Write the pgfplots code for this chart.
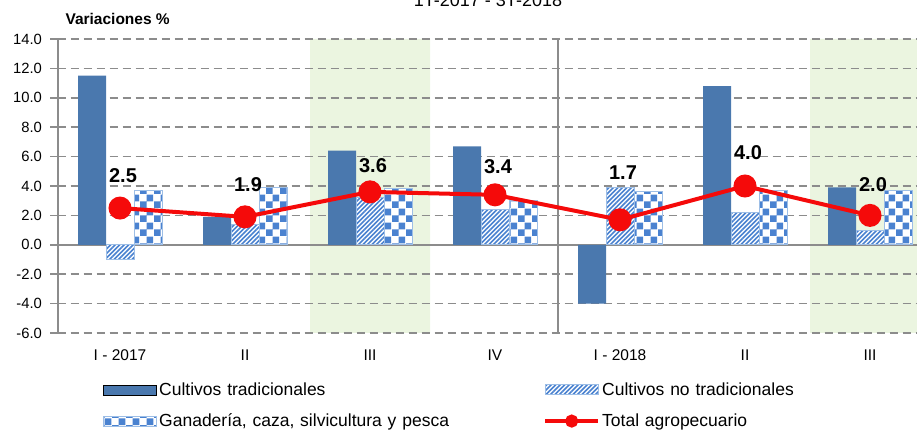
\documentclass[border=0pt]{standalone}
\usepackage{fontspec}
\setmainfont{Liberation Sans}
\usepackage{pgfplots}
\usepackage{pgfplotstable}
\pgfplotsset{compat=1.18}
\usetikzlibrary{patterns}

\definecolor{tradblue}{HTML}{4A78AE}
\definecolor{patblue}{HTML}{4A82D0}
\definecolor{edgeblue}{HTML}{9DBEE6}
\definecolor{gridgray}{HTML}{8C8C8C}
\definecolor{shade}{HTML}{EBF5E0}
\definecolor{totred}{HTML}{F50A0A}

% fine diagonal stripes
\pgfdeclarepatternformonly{mystripes}{\pgfqpoint{-1pt}{-1pt}}{\pgfqpoint{5.5pt}{5.5pt}}{\pgfqpoint{4.5pt}{4.5pt}}{%
  \pgfsetlinewidth{1.5pt}
  \pgfpathmoveto{\pgfqpoint{0pt}{0pt}}
  \pgfpathlineto{\pgfqpoint{4.6pt}{4.6pt}}
  \pgfusepath{stroke}}
% coarse checkerboard
\pgfdeclarepatternformonly{mychecker}{\pgfpointorigin}{\pgfqpoint{14pt}{14pt}}{\pgfqpoint{14pt}{14pt}}{%
  \pgfpathrectangle{\pgfpointorigin}{\pgfqpoint{7pt}{7pt}}
  \pgfpathrectangle{\pgfqpoint{7pt}{7pt}}{\pgfqpoint{7pt}{7pt}}
  \pgfusepath{fill}}

% x: quarter, off: label offset (pt) for the total line
\pgfplotstableread{
x trad notrad gan total off
0 11.5 -1.0 3.7 2.5 26
1 1.9 1.4 3.9 1.9 25
2 6.4 3.2 3.8 3.6 19
3 6.7 2.4 3.0 3.4 21
4 -4.0 3.9 3.6 1.7 40
5 10.8 2.2 3.7 4.0 26
6 3.9 1.0 3.7 2.0 24
}\datatable

\begin{document}
\begin{tikzpicture}
\begin{axis}[
    name=ax, set layers,
    scale only axis, width=859.5pt, height=294pt,
    xmin=-0.5, xmax=6.376, ymin=-6, ymax=14,
    ytick={-6,-4,...,14},
    xtick={0,...,6},
    xticklabels={I - 2017, II, III, IV, I - 2018, II, III},
    axis y line*=left, axis x line*=bottom,
    x axis line style={draw=none},
    y axis line style={gridgray, line width=2pt},
    ymajorgrids,
    major grid style={gridgray, line width=1.6pt, dash pattern=on 8pt off 5pt},
    tick align=outside, major tick length=7pt,
    ytick style={gridgray, line width=1.6pt},
    xtick style={draw=none},
    extra y ticks={0}, extra y tick labels={},
    extra y tick style={major grid style={solid, gridgray, line width=2pt}},
    extra x ticks={3.5}, extra x tick labels={},
    extra x tick style={grid=major, major grid style={solid, gridgray, line width=2pt}},
    /pgf/number format/assume math mode=true,
    yticklabel style={font=\fontsize{14.8}{16}\selectfont, xshift=-5pt,
        /pgf/number format/fixed, /pgf/number format/fixed zerofill,
        /pgf/number format/precision=1},
    xticklabel style={font=\fontsize{15.5}{17}\selectfont, yshift=-6pt},
    legend columns=2,
    legend style={draw=none, fill=none, inner sep=0pt,
        at={(0.05294,-0.1616)}, anchor=north west,
        font=\fontsize{17.5}{19}\selectfont,
        nodes={text width=382pt, inner sep=2pt},
        row sep=13pt},
    legend cell align=left,
    bar legend/.style={legend image code/.code={
        \draw[##1] (0pt,-5pt) rectangle (53pt,5pt);}},
]
% shaded quarters
\addplot[ybar, bar width=0.96, bar shift=0, fill=shade, draw=none,
    forget plot, on layer=axis background]
    coordinates {(2,14) (2,-6) (6,14) (6,-6)};

\addplot[ybar, bar width=0.224, bar shift=-0.224, fill=tradblue, draw=none, bar legend]
    table[x=x, y=trad]{\datatable};
\addlegendentry{Cultivos tradicionales}

\addplot[ybar, bar width=0.224, bar shift=0, fill=white, draw=edgeblue, line width=1pt,
    postaction={pattern=mystripes, pattern color=patblue}, bar legend]
    table[x=x, y=notrad]{\datatable};
\addlegendentry{Cultivos no tradicionales}

\addplot[ybar, bar width=0.224, bar shift=0.224, fill=white, draw=edgeblue, line width=1pt,
    postaction={pattern=mychecker, pattern color=patblue}, bar legend]
    table[x=x, y=gan]{\datatable};
\addlegendentry{Ganadería, caza, silvicultura y pesca}

\addplot[totred, line width=4pt, mark=*, mark size=9.5pt,
    point meta=explicit,
    visualization depends on={\thisrow{off} \as \off},
    nodes near coords,
    every node near coord/.append style={black, anchor=base,
        font=\bfseries\fontsize{20}{22}\selectfont,
        xshift=3pt, yshift=\off,
        /pgf/number format/fixed, /pgf/number format/fixed zerofill,
        /pgf/number format/precision=1},
    legend image code/.code={
        \draw[totred, line width=4pt] (0pt,0pt) -- (53pt,0pt);
        \fill[totred] (26.5pt,0pt) circle (4.5pt);}]
    table[x=x, y=total, meta=total]{\datatable};
\addlegendentry{Total agropecuario}
\end{axis}
\node[anchor=base, font=\fontsize{18}{20}\selectfont]
    at ([xshift=430.5pt, yshift=326pt]ax.south west) {1T-2017 - 3T-2018};
\node[anchor=base west, font=\bfseries\fontsize{15.5}{17}\selectfont]
    at ([xshift=4.5pt, yshift=308pt]ax.south west) {Variaciones \%};
\pgfresetboundingbox
\useasboundingbox ([xshift=-57.5pt, yshift=-99pt]ax.south west)
    rectangle ([yshift=39pt]ax.north east);
\end{tikzpicture}
\end{document}
